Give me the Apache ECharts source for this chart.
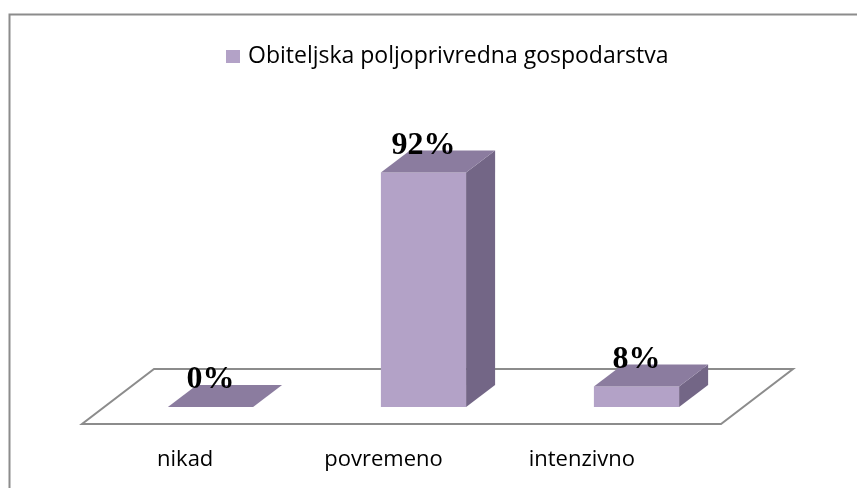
<!DOCTYPE html>
<html>
<head>
<meta charset="utf-8">
<script src="https://cdn.jsdelivr.net/npm/echarts@6/dist/echarts.min.js"></script>
<style>html,body{margin:0;padding:0;background:#fff}#c{width:857px;height:488px}</style>
</head>
<body>
<div id="c"></div>
<script>
var categories = ['nikad', 'povremeno', 'intenzivno'];
var seriesName = 'Obiteljska poljoprivredna gospodarstva';
var values = [0, 92, 8];
var valueLabels = ['0%', '92%', '8%'];

var FRONT = '#b3a2c7', TOP = '#8b7c9f', SIDE = '#736686';
var DX = 29, DY = 22;           // bar depth offset (px)
var FLOOR_F = [-22, 17], FLOOR_B = [50, -38];

var chart = echarts.init(document.getElementById('c'), null, {renderer: 'canvas'});

function renderFloor(params, api) {
  var cs = params.coordSys;
  var y0 = api.coord([0, 0])[1];
  var x1 = cs.x, x2 = cs.x + cs.width;
  return {
    type: 'polygon',
    shape: {points: [
      [x1 + FLOOR_F[0], y0 + FLOOR_F[1]],
      [x2 + FLOOR_F[0], y0 + FLOOR_F[1]],
      [x2 + FLOOR_B[0], y0 + FLOOR_B[1]],
      [x1 + FLOOR_B[0], y0 + FLOOR_B[1]]
    ]},
    style: {fill: '#fff', stroke: '#8c8c8c', lineWidth: 2},
    silent: true
  };
}

function renderBar(params, api) {
  var idx = api.value(0), v = api.value(1);
  var top = api.coord([idx, v]);
  var base = api.coord([idx, 0]);
  var w = api.size([1, 0])[0] * 0.4;
  var l = top[0] - w / 2, r = top[0] + w / 2;
  var yt = top[1], yb = base[1];
  var children = [];
  if (yb - yt > 0.5) {
    children.push({type: 'polygon', shape: {points: [[l, yt], [r, yt], [r, yb], [l, yb]]}, style: {fill: FRONT}});
    children.push({type: 'polygon', shape: {points: [[r, yt], [r + DX, yt - DY], [r + DX, yb - DY], [r, yb]]}, style: {fill: SIDE}});
  }
  children.push({type: 'polygon', shape: {points: [[l, yt], [r, yt], [r + DX, yt - DY], [l + DX, yt - DY]]}, style: {fill: TOP}});
  children.push({type: 'text', z2: 10, style: {
    text: valueLabels[params.dataIndex], x: top[0], y: yt - DY + 11,
    textAlign: 'center', textVerticalAlign: 'bottom',
    font: 'bold 32px "Liberation Serif", "Times New Roman", serif', fill: '#000'
  }});
  return {type: 'group', children: children};
}

var barData = values.map(function (v, i) { return [i, v]; });

chart.setOption({
  animation: false,
  backgroundColor: '#fff',
  graphic: [{
    type: 'rect', left: 7, top: 12, z: -10,
    shape: {x: 0, y: 0, width: 900, height: 500},
    style: {fill: 'none', stroke: '#8c8c8c', lineWidth: 2}
  }],
  legend: {
    data: [seriesName], left: 221, top: 40,
    icon: 'rect', itemWidth: 14, itemHeight: 13,
    textStyle: {fontFamily: 'Open Sans', fontSize: 23, color: '#000', padding: [0, 0, 0, 3]}
  },
  grid: [
    {left: 104, right: 114, top: 152, bottom: 81},
    {left: 86, right: 176, top: 100, bottom: 48}
  ],
  xAxis: [
    {type: 'category', data: categories, gridIndex: 0, show: false},
    {type: 'category', data: categories, gridIndex: 1,
     axisLine: {show: false}, axisTick: {show: false},
     axisLabel: {fontFamily: 'Open Sans', fontSize: 22, color: '#000', margin: 9}}
  ],
  yAxis: [
    {type: 'value', min: 0, max: 100, gridIndex: 0, show: false},
    {type: 'value', min: 0, max: 100, gridIndex: 1, show: false}
  ],
  series: [
    {type: 'custom', name: 'floor', xAxisIndex: 0, yAxisIndex: 0, z: 1,
     renderItem: renderFloor, data: [[0, 0]], silent: true},
    {type: 'custom', name: seriesName, xAxisIndex: 0, yAxisIndex: 0, z: 2,
     itemStyle: {color: FRONT}, renderItem: renderBar, data: barData}
  ]
});
</script>
</body>
</html>
